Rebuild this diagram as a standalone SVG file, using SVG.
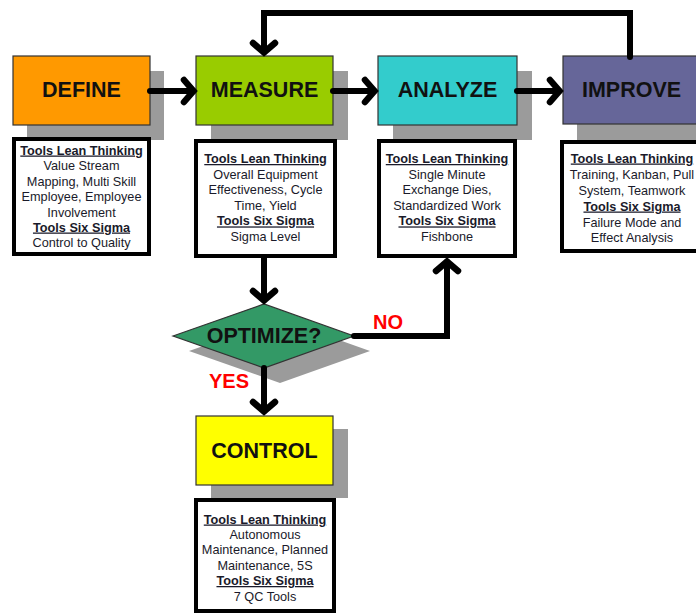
<svg xmlns="http://www.w3.org/2000/svg" width="696" height="615" viewBox="0 0 696 615">
<style>
.shadow{fill:#9b9b9b}
.box{stroke:#333;stroke-width:1.2}
.title{font-family:"Liberation Sans",Arial,sans-serif;font-weight:bold;font-size:21.5px;fill:#111;text-anchor:middle}
.tools{fill:#fff;stroke:#000;stroke-width:4}
.t{font-family:"Liberation Sans",Arial,sans-serif;font-size:12.7px;fill:#1a1a2a;text-anchor:middle}
.h{font-weight:bold;text-decoration:underline}
.lbl{font-family:"Liberation Sans",Arial,sans-serif;font-weight:bold;font-size:20px;fill:#ff0000}
.conn{fill:none;stroke:#000;stroke-width:6;stroke-linecap:round;stroke-linejoin:miter}
</style>
<defs>
<marker id="arr" markerUnits="userSpaceOnUse" markerWidth="40" markerHeight="40" viewBox="-20 -20 40 40" refX="0" refY="0" orient="auto" overflow="visible">
<polyline points="-9,-11 0.5,0 -9,11" fill="none" stroke="#000" stroke-width="6.5" stroke-linecap="round" stroke-linejoin="miter"/>
</marker>
</defs>

<g id="define">
<rect class="shadow" x="27" y="71" width="137" height="69"/>
<rect class="box" x="13" y="56" width="137" height="69" fill="#ff9900"/>
<text class="title" x="81.5" y="97">DEFINE</text>
<rect class="tools" x="14" y="139" width="135" height="115"/>
<text class="t h" x="81.5" y="154.5">Tools Lean Thinking</text>
<text class="t" x="81.5" y="169.5">Value Stream</text>
<text class="t" x="81.5" y="185.5">Mapping, Multi Skill</text>
<text class="t" x="81.5" y="200.5">Employee, Employee</text>
<text class="t" x="81.5" y="216.5">Involvement</text>
<text class="t h" x="81.5" y="231.5">Tools Six Sigma</text>
<text class="t" x="81.5" y="246.5">Control to Quality</text>
</g>

<g id="measure">
<rect class="shadow" x="211" y="71" width="137" height="69"/>
<rect class="box" x="196" y="56" width="137" height="69" fill="#99cc00"/>
<text class="title" x="264.5" y="97">MEASURE</text>
<rect class="tools" x="196" y="141" width="139" height="115"/>
<text class="t h" x="265.5" y="163">Tools Lean Thinking</text>
<text class="t" x="265.5" y="178.6">Overall Equipment</text>
<text class="t" x="265.5" y="194.2">Effectiveness, Cycle</text>
<text class="t" x="265.5" y="209.8">Time, Yield</text>
<text class="t h" x="265.5" y="225.4">Tools Six Sigma</text>
<text class="t" x="265.5" y="241">Sigma Level</text>
</g>

<g id="analyze">
<rect class="shadow" x="393" y="71" width="139" height="69"/>
<rect class="box" x="378" y="56" width="139" height="69" fill="#33cccc"/>
<text class="title" x="447.5" y="97">ANALYZE</text>
<rect class="tools" x="379" y="141" width="136" height="115"/>
<text class="t h" x="447" y="163">Tools Lean Thinking</text>
<text class="t" x="447" y="178.6">Single Minute</text>
<text class="t" x="447" y="194.2">Exchange Dies,</text>
<text class="t" x="447" y="209.8">Standardized Work</text>
<text class="t h" x="447" y="225.4">Tools Six Sigma</text>
<text class="t" x="447" y="241">Fishbone</text>
</g>

<g id="improve">
<rect class="shadow" x="577" y="71" width="137" height="69"/>
<rect class="box" x="563" y="56" width="137" height="68" fill="#666699"/>
<text class="title" x="631.5" y="97">IMPROVE</text>
<rect class="tools" x="562" y="142" width="140" height="109"/>
<text class="t h" x="632" y="162.5">Tools Lean Thinking</text>
<text class="t" x="632" y="178.5">Training, Kanban, Pull</text>
<text class="t" x="632" y="194.5">System, Teamwork</text>
<text class="t h" x="632" y="210.5">Tools Six Sigma</text>
<text class="t" x="632" y="226.5">Failure Mode and</text>
<text class="t" x="632" y="242">Effect Analysis</text>
</g>

<g id="optimize">
<polygon class="shadow" points="189,351 280,319 370,351 280,383"/>
<polygon class="box" points="173,336 264,304 354,336 264,368" fill="#339966"/>
<text class="title" x="264" y="343">OPTIMIZE?</text>
</g>

<g id="control">
<rect class="shadow" x="211" y="429" width="137" height="69"/>
<rect class="box" x="196" y="416" width="137" height="69" fill="#ffff00"/>
<text class="title" x="264.5" y="458">CONTROL</text>
<rect class="tools" x="196" y="500" width="138" height="111"/>
<text class="t h" x="265" y="523.5">Tools Lean Thinking</text>
<text class="t" x="265" y="538.5">Autonomous</text>
<text class="t" x="265" y="554">Maintenance, Planned</text>
<text class="t" x="265" y="569.5">Maintenance, 5S</text>
<text class="t h" x="265" y="585">Tools Six Sigma</text>
<text class="t" x="265" y="600.5">7 QC Tools</text>
</g>

<g id="connectors">
<path class="conn" d="M150,91 H193" marker-end="url(#arr)"/>
<path class="conn" d="M333,91 H374" marker-end="url(#arr)"/>
<path class="conn" d="M517,91 H559" marker-end="url(#arr)"/>
<path class="conn" d="M630,57 V13 H264 V52" marker-end="url(#arr)"/>
<path class="conn" d="M264,258 V300" marker-end="url(#arr)"/>
<path class="conn" d="M354,336 H447 V262" marker-end="url(#arr)"/>
<path class="conn" d="M264,368 V411" marker-end="url(#arr)"/>
<text class="lbl" x="373" y="329">NO</text>
<text class="lbl" x="209" y="388">YES</text>
</g>
</svg>
